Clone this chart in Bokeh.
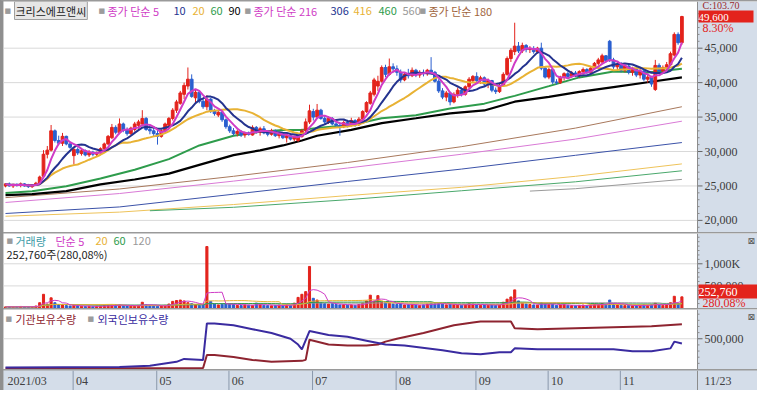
import numpy as np
import pandas as pd
from bokeh.plotting import figure
from bokeh.layouts import column
from bokeh.models import ColumnDataSource, Range1d, Label, BoxAnnotation, Span
from bokeh.core.properties import value
from bokeh.embed import file_html
from bokeh.resources import INLINE

# ---------------- data ----------------
stock_name = "크리스에프앤씨"
month_labels = ["2021/03", "04", "05", "06", "07", "08", "09", "10", "11"]
month_days = [18, 22, 19, 22, 22, 21, 19, 19, 17]
last_date_label = "11/23"

open_ = [25000, 25300, 25000, 25200, 25100, 25300, 25000, 24900, 25100, 25400,
         26400, 29600, 30200, 33000, 31600, 31200, 32200, 31100, 29400, 30300,
         29700, 30100, 29500, 29900, 29600, 29800, 30400, 31100, 32000, 33500,
         32700, 34000, 33100, 32600, 33200, 33800, 34000, 34800, 33200, 33000,
         32600, 32200, 33000, 33800, 34800, 36000, 37000, 38300, 39500, 40500,
         37800, 38600, 37300, 36500, 37600, 35900, 35300, 35700, 34600, 33600,
         33000, 32600, 32900, 32400, 32700, 32400, 33500, 32800, 33300, 32700,
         32500, 33000, 32300, 32600, 32000, 32300, 31800, 31600, 32200, 33000,
         34300, 35800, 35000, 36000, 34800, 34300, 34800, 34000, 33800, 33600,
         34200, 33800, 34500, 33900, 34700, 35800, 37000, 38300, 39500, 40200,
         42200, 41200, 42300, 42000, 41500, 40400, 41200, 41000, 41800, 41100,
         41500, 41300, 41800, 41500, 40200, 38800, 37900, 38500, 37200, 38300,
         38900, 38300, 39400, 40300, 40900, 40300, 40700, 39800, 40300, 38900,
         38700, 39600, 41200, 43500, 44500, 45300, 44600, 45400, 44800, 44900,
         44500, 45000, 42100, 40800, 41900, 40100, 40000, 40800, 41300, 40900,
         41400, 41000, 41600, 41900, 41500, 42100, 42800, 43000, 43900, 46000,
         43300, 42300, 42700, 41800, 42400, 41500, 42000, 41100, 41700, 40500,
         40800, 39000, 42500, 41700, 42200, 42600, 44000, 47000, 45800]
high = [25400, 25500, 25300, 25400, 25500, 25400, 25300, 25200, 25600, 26500,
        30200, 30800, 33850, 33200, 32300, 32700, 32300, 31300, 30500, 30600,
        30400, 30300, 30200, 30100, 30000, 30600, 31300, 32400, 34000, 33800,
        34800, 34200, 33500, 33600, 34300, 34600, 36000, 35000, 33700, 33500,
        33100, 33200, 34200, 35000, 36300, 37500, 38800, 40000, 42200, 41200,
        39000, 38800, 37600, 38200, 37800, 36200, 36000, 35800, 34800, 33900,
        33400, 33200, 33100, 32900, 32900, 33800, 33700, 33600, 33700, 33100,
        33300, 33200, 32800, 32800, 32600, 32500, 32300, 32400, 33300, 34800,
        36800, 36200, 36900, 36200, 35200, 35100, 35000, 34500, 34200, 34500,
        34600, 34900, 34700, 35000, 36000, 37300, 38800, 40700, 41000, 42500,
        42600, 43500, 42800, 42500, 41900, 41500, 42000, 42200, 42000, 41800,
        41900, 42000, 43700, 41700, 40500, 39200, 38800, 38700, 38600, 39300,
        39300, 39600, 40800, 41100, 41500, 41000, 40900, 40600, 40400, 39300,
        39800, 41500, 43800, 45000, 48700, 45900, 45800, 45600, 45300, 45300,
        45200, 45800, 42300, 42200, 42000, 40500, 41000, 41500, 41600, 41700,
        41700, 41800, 42200, 42100, 42300, 43000, 43600, 44200, 44000, 46200,
        43600, 43000, 43000, 42600, 42600, 42300, 42200, 42000, 41900, 41200,
        41000, 43300, 42800, 42500, 43000, 44500, 47300, 47300, 49700]
low = [24800, 24900, 24700, 24900, 24800, 24900, 24700, 24700, 25000, 25300,
       26200, 29000, 30000, 31300, 30900, 30800, 30900, 30400, 28100, 29500,
       29400, 29300, 29200, 29300, 29300, 29700, 30200, 30900, 31800, 32500,
       32500, 32800, 32300, 32400, 32900, 33300, 33800, 33000, 32500, 32200,
       31000, 32000, 32800, 33600, 34500, 35600, 36800, 37600, 39000, 37800,
       37000, 37000, 36200, 36000, 35600, 35200, 35000, 34300, 33300, 32700,
       32300, 32200, 32100, 32000, 32300, 32300, 32600, 32300, 32500, 32200,
       32300, 32100, 31900, 31800, 31300, 31600, 31500, 31400, 32000, 32800,
       34000, 34500, 34800, 34600, 34000, 34000, 33800, 33500, 32300, 33400,
       33500, 33600, 33600, 33700, 34500, 35600, 36800, 38000, 38800, 40000,
       40800, 41000, 41500, 41000, 40000, 40200, 40600, 40800, 40800, 40700,
       40900, 41000, 41200, 40000, 38500, 37600, 37300, 36700, 37000, 37800,
       38000, 38100, 39200, 40000, 40000, 39800, 39500, 39200, 38600, 38350,
       38500, 39400, 41000, 43000, 44000, 44300, 44300, 44400, 44300, 44200,
       44200, 41800, 40600, 40500, 39800, 39700, 39800, 40300, 40600, 40700,
       40800, 40700, 41200, 41200, 41300, 41900, 42500, 42800, 42900, 43000,
       42000, 41700, 41500, 41500, 41200, 41000, 40800, 40600, 40200, 40000,
       39400, 38800, 41300, 41400, 41800, 42400, 43800, 45500, 45500]
close = [25300, 25000, 25200, 25100, 25300, 25000, 24900, 25100, 25400, 26300,
         29600, 30200, 33000, 31600, 31200, 32200, 31100, 30600, 30300, 29800,
         30100, 29500, 29900, 29600, 29800, 30400, 31100, 32200, 33500, 32800,
         34000, 33100, 32600, 33400, 34000, 34300, 34800, 33200, 33000, 32600,
         32200, 33000, 34000, 34800, 36000, 37200, 38500, 39600, 40500, 38000,
         38600, 37300, 36500, 37600, 35900, 35500, 35700, 34600, 33600, 33000,
         32600, 32900, 32400, 32700, 32500, 33500, 32800, 33300, 32700, 32500,
         33000, 32300, 32600, 32000, 32300, 31800, 32100, 32200, 33000, 34300,
         35900, 35000, 36000, 34800, 34300, 34800, 34000, 33800, 33600, 34200,
         33800, 34500, 33900, 34700, 35800, 37100, 38500, 40400, 40200, 42200,
         41200, 42300, 42000, 41500, 40400, 41200, 41000, 41800, 41100, 41500,
         41300, 41800, 41500, 40200, 38800, 37900, 38500, 37200, 38300, 38900,
         38300, 39400, 40500, 40900, 40300, 40700, 39800, 40300, 38900, 38700,
         39600, 41200, 43500, 44700, 45300, 44600, 45400, 44800, 44900, 44500,
         45000, 42100, 40800, 41900, 40100, 40000, 40800, 41300, 40900, 41400,
         41000, 41600, 41900, 41500, 42100, 42800, 43300, 43900, 43200, 43300,
         42300, 42700, 41800, 42400, 41500, 42000, 41100, 41700, 40500, 40800,
         39800, 42500, 41700, 42200, 42600, 44200, 47000, 45800, 49600]
volume = [25000, 30000, 22000, 28000, 35000, 26000, 24000, 30000, 45000, 120000,
          310000, 90000, 230000, 120000, 70000, 80000, 55000, 45000, 60000, 50000,
          40000, 35000, 38000, 30000, 42000, 45000, 55000, 60000, 65000, 75000,
          70000, 50000, 45000, 48000, 52000, 60000, 130000, 70000, 50000, 45000,
          40000, 55000, 60000, 90000, 150000, 170000, 180000, 160000, 120000, 100000,
          75000, 60000, 70000, 1390000, 150000, 90000, 70000, 85000, 100000, 95000,
          80000, 60000, 55000, 70000, 65000, 60000, 110000, 75000, 60000, 55000,
          50000, 60000, 65000, 55000, 70000, 60000, 110000, 240000, 310000, 370000,
          940000, 220000, 180000, 120000, 100000, 90000, 100000, 80000, 70000, 75000,
          65000, 70000, 60000, 80000, 110000, 160000, 290000, 150000, 280000, 130000,
          120000, 110000, 90000, 80000, 100000, 70000, 75000, 80000, 65000, 60000,
          70000, 90000, 110000, 95000, 100000, 90000, 70000, 85000, 75000, 65000,
          60000, 80000, 100000, 90000, 70000, 60000, 70000, 65000, 80000, 60000,
          70000, 130000, 200000, 250000, 410000, 160000, 110000, 90000, 80000, 70000,
          65000, 120000, 90000, 80000, 85000, 60000, 70000, 75000, 60000, 55000,
          50000, 60000, 65000, 55000, 70000, 90000, 85000, 100000, 80000, 180000,
          90000, 70000, 60000, 55000, 65000, 50000, 55000, 60000, 70000, 60000,
          75000, 110000, 70000, 60000, 80000, 120000, 265000, 90245, 252760]

# moving averages (day index -> value)
ma_mid_day = [0, 7, 16, 25, 34, 43, 51, 60, 67, 73, 78, 82, 91, 99, 108, 117, 126, 134, 143, 151, 160, 169, 178]
ma60_val = [23960, 24240, 24950, 26080, 27350, 28900, 30880, 32290, 32860, 33140, 33140, 33420,
            33850, 34830, 35260, 36250, 36950, 38080, 39490, 40760, 41610, 41470, 42030]
ma90_val = [23680, 23820, 24240, 25230, 25940, 26790, 28060, 29470, 30170, 30880, 31590, 32290,
            33140, 34130, 34830, 35540, 35960, 37230, 37940, 38650, 39350, 40060, 40760]
ma_long_day = [0, 30, 60, 90, 120, 150, 178]
ma180_val = [23300, 24560, 26400, 28400, 30700, 33400, 36500]
ma216_val = [22600, 23900, 25700, 27600, 29600, 31800, 34400]
ma306_val = [21000, 21950, 23800, 25650, 27450, 29450, 31300]
ma416_val = [20600, 21200, 22300, 23600, 24800, 26400, 28200]
ma460_day = [38, 60, 90, 120, 150, 178]
ma460_val = [21400, 21900, 23000, 24300, 25600, 27200]
ma560_day = [138, 150, 178]
ma560_val = [24250, 24600, 25950]

# holdings (day index -> shares)
frgn_day = [0, 30, 38, 45, 47, 52, 53, 55, 60, 65, 70, 75, 77, 78, 80, 85, 90, 95, 100, 105, 115,
            120, 125, 130, 133, 134, 140, 150, 160, 165, 170, 175, 176, 178]
frgn_val = [31250, 39060, 62500, 125000, 171880, 156250, 750000, 750000, 718750, 656250, 593750,
            500000, 406250, 328125, 625000, 562500, 531250, 468750, 406250, 390625, 312500,
            265625, 250000, 281250, 281250, 343750, 328125, 328125, 328125, 296875, 296875,
            343750, 453125, 421875]
inst_day = [0, 52, 53, 55, 60, 65, 70, 78, 79, 80, 85, 90, 95, 98, 100, 103, 110, 118, 123, 125,
            133, 134, 140, 150, 160, 170, 178]
inst_val = [15625, 23440, 234375, 234375, 203125, 156250, 125000, 140625, 156250, 484375, 406250,
            390625, 390625, 406250, 453125, 500000, 593750, 718750, 765625, 781250, 781250, 671875,
            656250, 671875, 687500, 703125, 734375]

price_ticks = [20000, 25000, 30000, 35000, 40000, 45000]
price_tick_labels = ["20,000", "25,000", "30,000", "35,000", "40,000", "45,000"]
vol_ticks = [500000, 1000000]
vol_tick_labels = ["500,000", "1,000K"]
hold_ticks = [500000]
hold_tick_labels = ["500,000"]

legend_price_1 = ["종가 단순 5", "10", "20", "60", "90"]
legend_price_2 = ["종가 단순 216", "306", "416", "460", "560"]
legend_price_3 = ["종가 단순 180"]
legend_vol = ["거래량", "단순 5", "20", "60", "120"]
vol_info_text = "252,760주(280,08%)"
legend_hold = ["기관보유수량", "외국인보유수량"]
header_text = "C:103.70"
last_price_text = "49,600"
last_change_text = "8.30%"
last_vol_text = "252,760"
last_vol_ratio_text = "280,08%"

# ---------------- styles ----------------
UP = "#e3231c"
DOWN = "#2a5fcf"
MAG = "#cf3cc6"
C10 = "#24338f"
C20 = "#e8b234"
C60 = "#2e9c4c"
C90 = "#000000"
C180 = "#a8785c"
C216 = "#d97ad6"
C306 = "#3b52a8"
C416 = "#eec35a"
C460 = "#4aa86c"
C560 = "#9a9a9a"
CVOLTXT = "#3b9aa6"
CINST = "#8e2430"
CFRGN = "#3a2ba0"
STRIP = "#d4dde9"
GRID = "#d9d9d9"
AXC = "#8c8c8c"
TXT = "#3c3c3c"
KFONT = "Noto Sans CJK KR"
NFONT = "Liberation Sans Narrow"

W = 754
STRIP_W = 60
FRAME_W = W - STRIP_W
PX_DAY = 3.8
FIRST_PX = 2
H1, H2, H3, H4 = 231, 75, 60, 20

x_start = -FIRST_PX / PX_DAY
x_strip = x_start + FRAME_W / PX_DAY
xr = Range1d(x_start, x_start + W / PX_DAY)

# ---------------- derived ----------------
N = len(close)
df = pd.DataFrame({"o": open_, "h": high, "l": low, "c": close, "v": volume})
df["x"] = np.arange(N)
df["color"] = np.where(df.c >= df.o, UP, DOWN)
df["top"] = df[["o", "c"]].max(axis=1)
df["bot"] = df[["o", "c"]].min(axis=1)
cs = pd.Series(close, dtype=float)
vs = pd.Series(volume, dtype=float)
df["ma5"] = cs.rolling(5, min_periods=1).mean()
df["ma10"] = cs.rolling(10, min_periods=1).mean()
df["ma20"] = cs.rolling(20, min_periods=1).mean()
df["vma5"] = vs.rolling(5, min_periods=1).mean()
df["vma20"] = vs.rolling(20, min_periods=1).mean()
df["vma60"] = vs.rolling(60, min_periods=1).mean()
df["vma120"] = vs.rolling(120, min_periods=1).mean()
src = ColumnDataSource(df)
month_start = np.cumsum([0] + month_days[:-1])


def make_fig(h, yr, bg="white"):
    p = figure(width=W, height=h, x_range=xr, y_range=yr, toolbar_location=None,
               output_backend="svg", x_axis_location=None, y_axis_location=None,
               min_border=0, background_fill_color=bg, border_fill_color=STRIP)
    p.outline_line_color = None
    p.grid.visible = False
    return p


def price_axis(p, ticks, labels, minor):
    """Right-hand value scale drawn in the strip next to the plot area."""
    p.segment(x0=x_start, x1=x_strip, y0=ticks, y1=ticks, line_color=GRID, line_width=1)
    p.add_layout(BoxAnnotation(left=x_strip, fill_color=STRIP, fill_alpha=1, line_alpha=0, level="underlay"))
    p.add_layout(Span(location=x_strip, dimension="height", line_color=AXC, line_width=1))
    p.segment(x0=x_strip, x1=x_strip + 2 / PX_DAY, y0=minor, y1=minor, line_color="#8a8a8a", line_width=1)
    p.segment(x0=x_strip, x1=x_strip + 5 / PX_DAY, y0=ticks, y1=ticks, line_color="#666666", line_width=1)
    p.text(x=x_strip, y=ticks, text=labels, x_offset=7, text_baseline="middle", text_align="left",
           text_font=value(NFONT), text_font_size=value("12px"), text_color=TXT)


def add_label(p, x, y, text, color, size="11px", font=KFONT, y_units="screen", **kw):
    p.add_layout(Label(x=x, y=y, x_units="screen", y_units=y_units, text=text,
                       text_color=color, text_font=font, text_font_size=size,
                       text_baseline="middle", text_align="left", **kw))


def square(p, x, y):
    add_label(p, x, y, "■", "#9c9c9c", size="7px", font="DejaVu Sans")


# ---------------- panel 1: price ----------------
p1 = make_fig(H1, Range1d(18240, 51780))
price_axis(p1, price_ticks, price_tick_labels,
           [v for v in range(19000, 51000, 1000) if v not in price_ticks])

for d, v, c in [(ma_long_day, ma416_val, C416), (ma460_day, ma460_val, C460), (ma560_day, ma560_val, C560),
                (ma_long_day, ma306_val, C306), (ma_long_day, ma216_val, C216), (ma_long_day, ma180_val, C180)]:
    p1.line(d, v, line_color=c, line_width=1)
p1.line(ma_mid_day, ma90_val, line_color=C90, line_width=2.2)
p1.line(ma_mid_day, ma60_val, line_color=C60, line_width=2)

p1.segment(x0="x", y0="l", x1="x", y1="h", source=src, line_color="color", line_width=1)
p1.vbar(x="x", top="top", bottom="bot", width=0.72, source=src, fill_color="color", line_color="color")

p1.line("x", "ma20", source=src, line_color=C20, line_width=2)
p1.line("x", "ma10", source=src, line_color=C10, line_width=2)
p1.line("x", "ma5", source=src, line_color=MAG, line_width=2)

ly = H1 - 9
square(p1, 1, ly)
add_label(p1, 11, ly, stock_name, "#222222", background_fill_color="#e6e6e6",
          border_line_color="#a0a0a0", padding=1)
square(p1, 95, ly)
for t, c, x in zip(legend_price_1, [MAG, C10, C20, C60, C90], [104, 170, 189, 207, 225]):
    add_label(p1, x, ly, t, c)
square(p1, 241, ly)
for t, c, x in zip(legend_price_2, [MAG, C10, C20, C60, C560], [250, 327, 350, 375, 399]):
    add_label(p1, x, ly, t, c)
square(p1, 416, ly)
add_label(p1, 425, ly, legend_price_3[0], "#a0643c")

add_label(p1, FRAME_W + 5, H1 - 4, header_text, "#9a2b2b", size="10px", font=NFONT)
add_label(p1, FRAME_W + 1, close[-1], last_price_text + "\u00a0" * 9, "white", size="11px", font=NFONT,
          y_units="data", background_fill_color=UP)
add_label(p1, FRAME_W + 5, H1 - 26, last_change_text, UP, size="12px", font=NFONT)

# ---------------- panel 2: volume ----------------
p2 = make_fig(H2, Range1d(-11000, 1685000))
price_axis(p2, vol_ticks, vol_tick_labels,
           [v for v in range(100000, 1700000, 100000) if v not in vol_ticks])
p2.vbar(x="x", top="v", bottom=0, width=0.55, source=src, fill_color="color", line_color="color")
p2.line("x", "vma120", source=src, line_color=C560, line_width=1)
p2.line("x", "vma60", source=src, line_color=C60, line_width=1)
p2.line("x", "vma20", source=src, line_color=C20, line_width=1)
p2.line("x", "vma5", source=src, line_color=MAG, line_width=1)

ly2 = H2 - 7
square(p2, 3, ly2)
for t, c, x in zip(legend_vol, [CVOLTXT, MAG, C20, C60, C560], [12, 52, 92, 110, 129]):
    add_label(p2, x, ly2, t, c)
add_label(p2, 3, H2 - 20, vol_info_text, "#222222")
add_label(p2, FRAME_W + 1, 17, last_vol_text + "\u00a0" * 7, "white", size="12px", font=NFONT,
          background_fill_color=UP)
add_label(p2, FRAME_W + 5, 6, last_vol_ratio_text, UP, size="12px", font=NFONT)
add_label(p2, FRAME_W + 50, H2 - 7, "⊠", "#555555", size="9px", font="DejaVu Sans")

# ---------------- panel 3: holdings ----------------
p3 = make_fig(H3, Range1d(0, 976000))
price_axis(p3, hold_ticks, hold_tick_labels,
           [v for v in range(100000, 1000000, 100000) if v not in hold_ticks])
p3.line(inst_day, inst_val, line_color=CINST, line_width=2)
p3.line(frgn_day, frgn_val, line_color=CFRGN, line_width=2)

ly3 = H3 - 9
square(p3, 2, ly3)
add_label(p3, 12, ly3, legend_hold[0], CINST)
square(p3, 84, ly3)
add_label(p3, 94, ly3, legend_hold[1], CFRGN)
add_label(p3, FRAME_W + 50, H3 - 7, "⊠", "#555555", size="9px", font="DejaVu Sans")

# ---------------- date strip ----------------
p4 = make_fig(H4, Range1d(0, 1), bg=STRIP)
p4.segment(x0=month_start[1:] - 0.2, y0=0, x1=month_start[1:] - 0.2, y1=1, line_color="#8a98ab", line_width=1)
p4.add_layout(Span(location=x_strip, dimension="height", line_color=AXC, line_width=1))
p4.text(x=month_start, y=0.5, text=month_labels, text_font=value(NFONT), text_font_size=value("12px"),
        text_color="#404040", text_baseline="middle", text_align="left", x_offset=2)
p4.text(x=[x_strip], y=[0.5], text=[last_date_label], text_font=value(NFONT), text_font_size=value("12px"),
        text_color="#404040", text_baseline="middle", text_align="left", x_offset=7)

layout = column(p1, p2, p3, p4, spacing=1,
                styles={"border-left": "3px solid #8f8f8f", "border-top": "1px solid #9a9a9a",
                        "background-color": "#9a9a9a"})
open("out.html", "w").write(file_html(layout, INLINE))
